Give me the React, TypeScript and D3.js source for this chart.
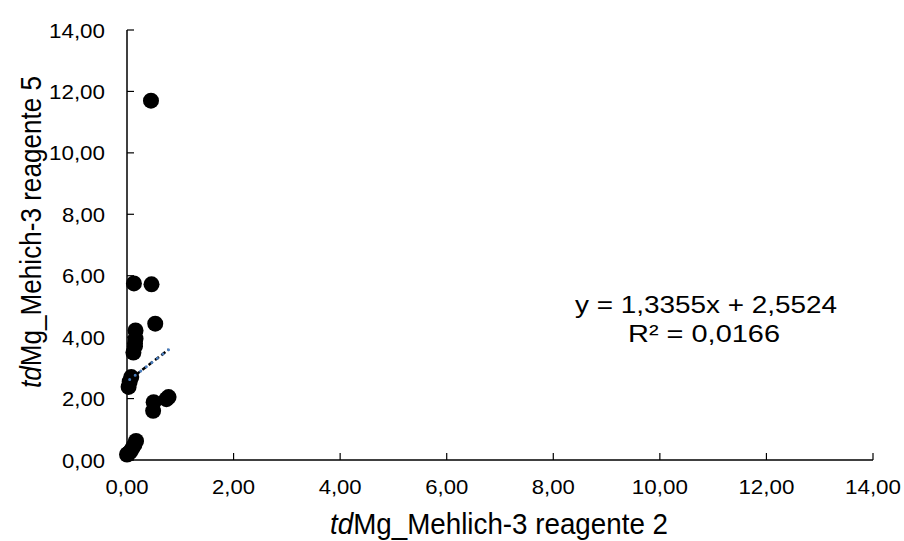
import React from "react";
import * as d3 from "d3";

const xValues = [0.45, 0.13, 0.46, 0.53, 0.16, 0.16, 0.15, 0.15, 0.12, 0.08, 0.05, 0.03, 0.78, 0.74, 0.5, 0.49, 0.17, 0.14, 0.1, 0.06, 0.02, 0.0];
const yValues = [11.7, 5.75, 5.72, 4.44, 4.22, 3.95, 3.8, 3.7, 3.5, 2.7, 2.55, 2.38, 2.05, 1.98, 1.88, 1.6, 0.62, 0.5, 0.38, 0.27, 0.2, 0.18];
const tickValues = [0, 2, 4, 6, 8, 10, 12, 14];
const slope = 1.3355;
const intercept = 2.5524;
const equationText = "y = 1,3355x + 2,5524";
const r2Text = "R² = 0,0166";

const fmt = (v: number) => v.toFixed(2).replace(".", ",");

export default function App() {
  const W = 904, H = 541;
  const x = d3.scaleLinear().domain([0, 14]).range([127, 873]);
  const y = d3.scaleLinear().domain([0, 14]).range([460, 30]);
  const font = "Liberation Sans, Arial, sans-serif";
  const xMin = d3.min(xValues.filter(v => v > 0.03)) as number;
  const xMax = d3.max(xValues) as number;
  const line = d3.line<number>().x(d => x(d)).y(d => y(slope * d + intercept));
  const trend = line([xMin, xMax]) || "";
  const tl = (s: string) => (s.length > 4 ? 56 : 43);
  return (
    <svg width={W} height={H} style={{ position: "absolute", left: 0, top: 0, background: "#fff" }}>
      <g fontFamily={font} fill="#000">
        {/* axes */}
        <line x1={x(0)} x2={x(0)} y1={y(14)} y2={y(0)} stroke="#000" strokeWidth={1.5} />
        <line x1={x(0)} x2={x(14)} y1={y(0)} y2={y(0)} stroke="#000" strokeWidth={1.5} />
        {tickValues.map(t => (
          <g key={"y" + t}>
            <line x1={x(0)} x2={x(0) + 7} y1={y(t)} y2={y(t)} stroke="#000" strokeWidth={1.2} />
            <text x={105} y={y(t)} dy="0.36em" textAnchor="end" fontSize={21} textLength={tl(fmt(t))} lengthAdjust="spacingAndGlyphs">{fmt(t)}</text>
          </g>
        ))}
        {tickValues.map(t => (
          <g key={"x" + t}>
            <line x1={x(t)} x2={x(t)} y1={y(0)} y2={y(0) - 7} stroke="#000" strokeWidth={1.2} />
            <text x={x(t)} y={494} textAnchor="middle" fontSize={21} textLength={tl(fmt(t))} lengthAdjust="spacingAndGlyphs">{fmt(t)}</text>
          </g>
        ))}
        {/* points */}
        {xValues.map((v, i) => (
          <circle key={i} cx={x(v)} cy={y(yValues[i])} r={8} fill="#000" />
        ))}
        {/* trendline */}
        <path d={trend} stroke="#000" strokeWidth={2.5} strokeDasharray="5,3" fill="none" />
        <path d={trend} stroke="#4a7ebf" strokeWidth={3} strokeDasharray="0,7" strokeLinecap="round" fill="none" />
        {/* equation */}
        <text x={706} y={313} textAnchor="middle" fontSize={24} textLength={262} lengthAdjust="spacingAndGlyphs">{equationText}</text>
        <text x={704} y={342} textAnchor="middle" fontSize={24} textLength={152} lengthAdjust="spacingAndGlyphs">{r2Text}</text>
        {/* axis titles */}
        <text x={499} y={534} textAnchor="middle" fontSize={29} textLength={338} lengthAdjust="spacingAndGlyphs">
          <tspan fontStyle="italic">td</tspan>Mg_Mehlich-3 reagente 2
        </text>
        <text transform={`translate(41,232) rotate(-90)`} textAnchor="middle" fontSize={29} textLength={312} lengthAdjust="spacingAndGlyphs">
          <tspan fontStyle="italic">td</tspan>Mg_Mehich-3 reagente 5
        </text>
      </g>
    </svg>
  );
}
